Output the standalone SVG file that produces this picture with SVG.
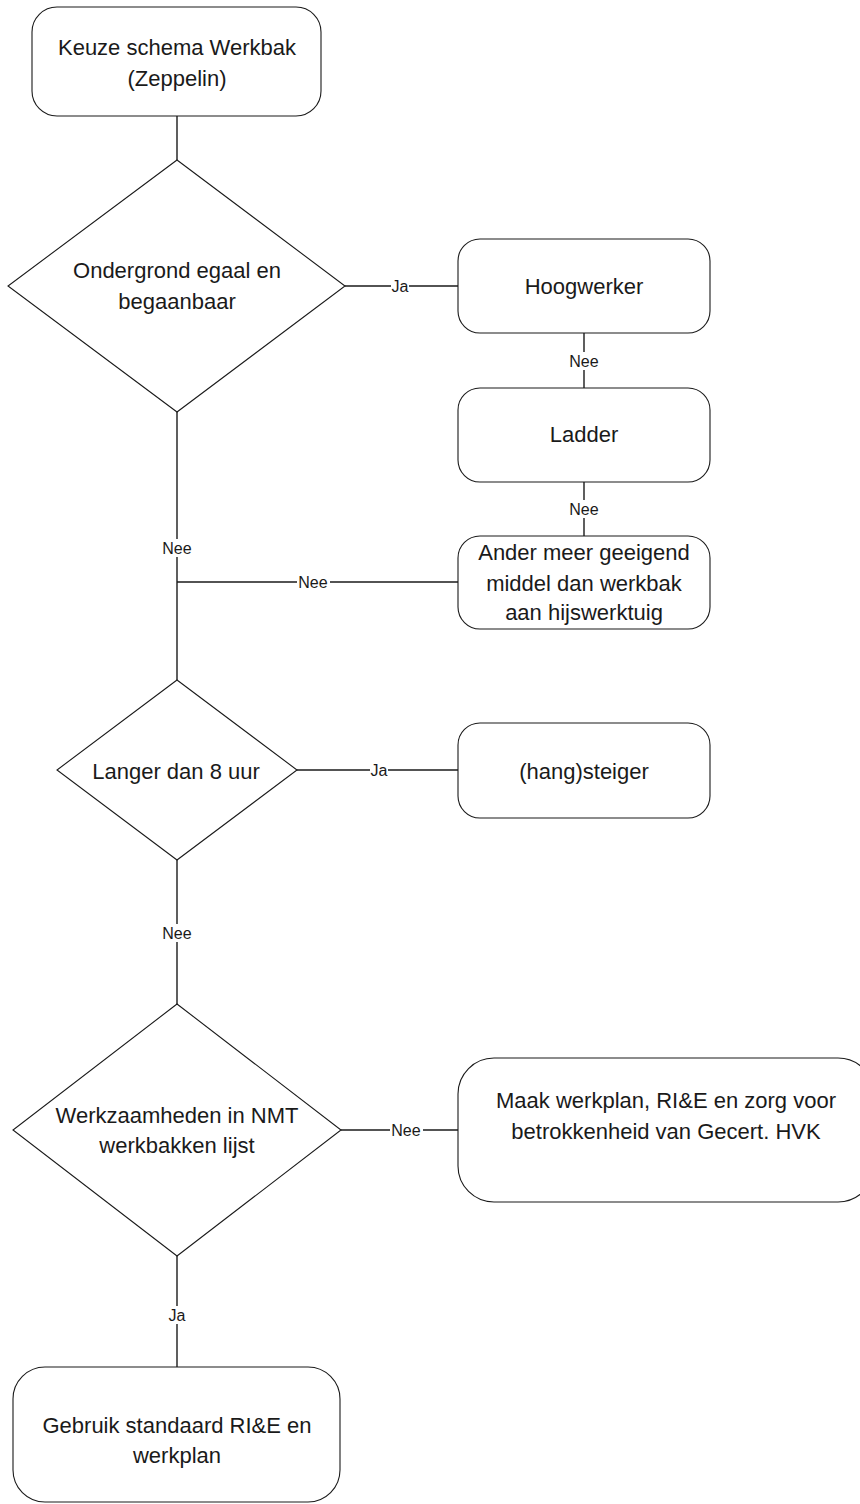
<svg xmlns="http://www.w3.org/2000/svg" width="860" height="1504" viewBox="0 0 860 1504">
<style>
.shape{fill:#fff;stroke:#1a1a1a;stroke-width:1.1}
.line{stroke:#1a1a1a;stroke-width:1.4;fill:none}
.t{font-family:"Liberation Sans",Arial,sans-serif;font-size:22px;fill:#1a1a1a;text-anchor:middle}
.lbl{font-family:"Liberation Sans",Arial,sans-serif;font-size:16px;fill:#1a1a1a;text-anchor:middle}
.bg{fill:#fff}
</style>
<rect width="860" height="1504" fill="#fff"/>
<g id="connectors">
<line class="line" x1="177" y1="116" x2="177" y2="160"/>
<line class="line" x1="345" y1="286" x2="458" y2="286"/>
<line class="line" x1="584" y1="333" x2="584" y2="388"/>
<line class="line" x1="584" y1="482" x2="584" y2="536"/>
<line class="line" x1="458" y1="582" x2="177" y2="582"/>
<line class="line" x1="177" y1="412" x2="177" y2="680"/>
<line class="line" x1="297" y1="770" x2="458" y2="770"/>
<line class="line" x1="177" y1="860" x2="177" y2="1004"/>
<line class="line" x1="341" y1="1130" x2="458" y2="1130"/>
<line class="line" x1="177" y1="1256" x2="177" y2="1367"/>
<rect class="bg" x="391" y="277" width="18" height="18"/>
<text class="lbl" x="400" y="292">Ja</text>
<rect class="bg" x="568" y="352" width="33" height="18"/>
<text class="lbl" x="584" y="367">Nee</text>
<rect class="bg" x="568" y="500" width="33" height="18"/>
<text class="lbl" x="584" y="515">Nee</text>
<rect class="bg" x="297" y="573" width="33" height="18"/>
<text class="lbl" x="313" y="588">Nee</text>
<rect class="bg" x="161" y="539" width="33" height="18"/>
<text class="lbl" x="177" y="554">Nee</text>
<rect class="bg" x="370" y="761" width="18" height="18"/>
<text class="lbl" x="379" y="776">Ja</text>
<rect class="bg" x="161" y="924" width="33" height="18"/>
<text class="lbl" x="177" y="939">Nee</text>
<rect class="bg" x="390" y="1121" width="33" height="18"/>
<text class="lbl" x="406" y="1136">Nee</text>
<rect class="bg" x="168" y="1306" width="18" height="18"/>
<text class="lbl" x="177" y="1321">Ja</text>
</g>
<g id="start">
<rect class="shape" x="32" y="7" width="289" height="109" rx="25" ry="25"/>
<text class="t" x="177" y="55">Keuze schema Werkbak</text>
<text class="t" x="177" y="86">(Zeppelin)</text>
</g>
<g id="d1">
<polygon class="shape" points="177,160 345,286 177,412 8,286"/>
<text class="t" x="177" y="278">Ondergrond egaal en</text>
<text class="t" x="177" y="309">begaanbaar</text>
</g>
<g id="hoogwerker">
<rect class="shape" x="458" y="239" width="252" height="94" rx="22" ry="22"/>
<text class="t" x="584" y="294">Hoogwerker</text>
</g>
<g id="ladder">
<rect class="shape" x="458" y="388" width="252" height="94" rx="22" ry="22"/>
<text class="t" x="584" y="442">Ladder</text>
</g>
<g id="ander">
<rect class="shape" x="458" y="536" width="252" height="93" rx="22" ry="22"/>
<text class="t" x="584" y="560">Ander meer geeigend</text>
<text class="t" x="584" y="591">middel dan werkbak</text>
<text class="t" x="584" y="620">aan hijswerktuig</text>
</g>
<g id="d2">
<polygon class="shape" points="177,680 297,770 177,860 57,770"/>
<text class="t" x="176" y="779">Langer dan 8 uur</text>
</g>
<g id="steiger">
<rect class="shape" x="458" y="723" width="252" height="95" rx="22" ry="22"/>
<text class="t" x="584" y="779">(hang)steiger</text>
</g>
<g id="d3">
<polygon class="shape" points="177,1004 341,1130 177,1256 13,1130"/>
<text class="t" x="177" y="1123">Werkzaamheden in NMT</text>
<text class="t" x="177" y="1153">werkbakken lijst</text>
</g>
<g id="maak">
<rect class="shape" x="458" y="1058" width="416" height="144" rx="36" ry="36"/>
<text class="t" x="666" y="1108">Maak werkplan, RI&amp;E en zorg voor</text>
<text class="t" x="666" y="1139">betrokkenheid van Gecert. HVK</text>
</g>
<g id="gebruik">
<rect class="shape" x="13" y="1367" width="327" height="135" rx="32" ry="32"/>
<text class="t" x="177" y="1433">Gebruik standaard RI&amp;E en</text>
<text class="t" x="177" y="1463">werkplan</text>
</g>
</svg>
